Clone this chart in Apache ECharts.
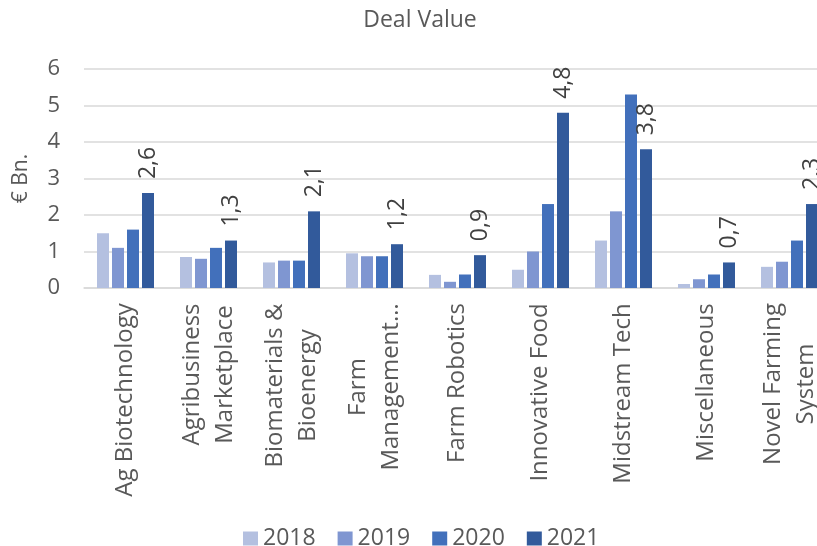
<!DOCTYPE html>
<html>
<head>
<meta charset="utf-8">
<script src="https://cdn.jsdelivr.net/npm/echarts@6/dist/echarts.min.js"></script>
<style>
html,body{margin:0;padding:0;background:#fff;}
#chart{width:817px;height:546px;}
</style>
</head>
<body>
<div id="chart"></div>
<script>
var categories = ["Ag Biotechnology", "Agribusiness\nMarketplace", "Biomaterials &\nBioenergy", "Farm\nManagement…", "Farm Robotics", "Innovative Food", "Midstream Tech", "Miscellaneous", "Novel Farming\nSystem"];
var years = ["2018", "2019", "2020", "2021"];
var v2018 = [1.5, 0.85, 0.7, 0.95, 0.36, 0.5, 1.3, 0.11, 0.58];
var v2019 = [1.1, 0.8, 0.75, 0.87, 0.17, 1.0, 2.1, 0.24, 0.72];
var v2020 = [1.6, 1.1, 0.75, 0.87, 0.37, 2.3, 5.3, 0.37, 1.3];
var v2021 = [2.6, 1.3, 2.1, 1.2, 0.9, 4.8, 3.8, 0.7, 2.3];
var colors = ["#b4c0e0", "#7f96d1", "#4270bb", "#325a9b"];
var FONT = "Open Sans";
var CAT_FS = 24;

// measure label lines so that multi-line labels can be centred line by line
var ctx = document.createElement('canvas').getContext('2d');
ctx.font = CAT_FS + 'px "' + FONT + '"';
var rich = {};
var catIndex = {};
categories.forEach(function (c, i) {
  catIndex[c] = i;
  var w = 0;
  c.split('\n').forEach(function (t) { w = Math.max(w, ctx.measureText(t).width); });
  rich['c' + i] = { width: Math.ceil(w), align: 'center', fontFamily: FONT, fontSize: CAT_FS, color: '#595959', lineHeight: 33 };
});

var chart = echarts.init(document.getElementById('chart'));
var seriesData = [v2018, v2019, v2020, v2021];
var series = seriesData.map(function (d, i) {
  var s = {
    name: years[i],
    type: 'bar',
    data: d,
    barWidth: 12,
    barGap: '25%',
    itemStyle: { color: colors[i] },
    emphasis: { disabled: true }
  };
  if (i === 3) {
    s.label = {
      show: true,
      position: 'top',
      rotate: 90,
      align: 'left',
      verticalAlign: 'middle',
      distance: 14,
      fontFamily: FONT,
      fontSize: 23,
      color: '#404040',
      formatter: function (p) { return p.value.toFixed(1).replace('.', ','); }
    };
  }
  return s;
});

chart.setOption({
  animation: false,
  color: colors,
  title: {
    text: 'Deal Value',
    left: 415,
    textAlign: 'center',
    top: 4,
    textStyle: { fontFamily: FONT, fontSize: 23, fontWeight: 'normal', color: '#595959' }
  },
  legend: {
    data: years,
    left: 238,
    top: 522,
    icon: 'rect',
    itemWidth: 15,
    itemHeight: 14,
    itemGap: 22,
    textStyle: { fontFamily: FONT, fontSize: 23, color: '#595959' }
  },
  grid: { left: 84, right: -14, top: 69, bottom: 258, containLabel: false, outerBoundsMode: 'none' },
  xAxis: {
    type: 'category',
    data: categories,
    axisLine: { lineStyle: { color: '#d9d9d9', width: 1.5 } },
    axisTick: { show: false },
    axisLabel: {
      interval: 0,
      rotate: 90,
      margin: 15,
      color: '#595959',
      fontFamily: FONT,
      fontSize: CAT_FS,
      formatter: function (v) {
        var i = catIndex[v];
        return v.split('\n').map(function (t) { return '{c' + i + '|' + t + '}'; }).join('\n');
      },
      rich: rich
    }
  },
  yAxis: {
    type: 'value',
    min: 0,
    max: 6,
    interval: 1,
    name: '€ Bn.',
    nameLocation: 'middle',
    nameGap: 52,
    nameTextStyle: { fontFamily: FONT, fontSize: 21, color: '#595959' },
    axisLine: { show: false },
    axisTick: { show: false },
    splitLine: { lineStyle: { color: '#d9d9d9', width: 1.5 } },
    axisLabel: { margin: 24, color: '#595959', fontFamily: FONT, fontSize: 22 }
  },
  series: series
});
</script>
</body>
</html>
